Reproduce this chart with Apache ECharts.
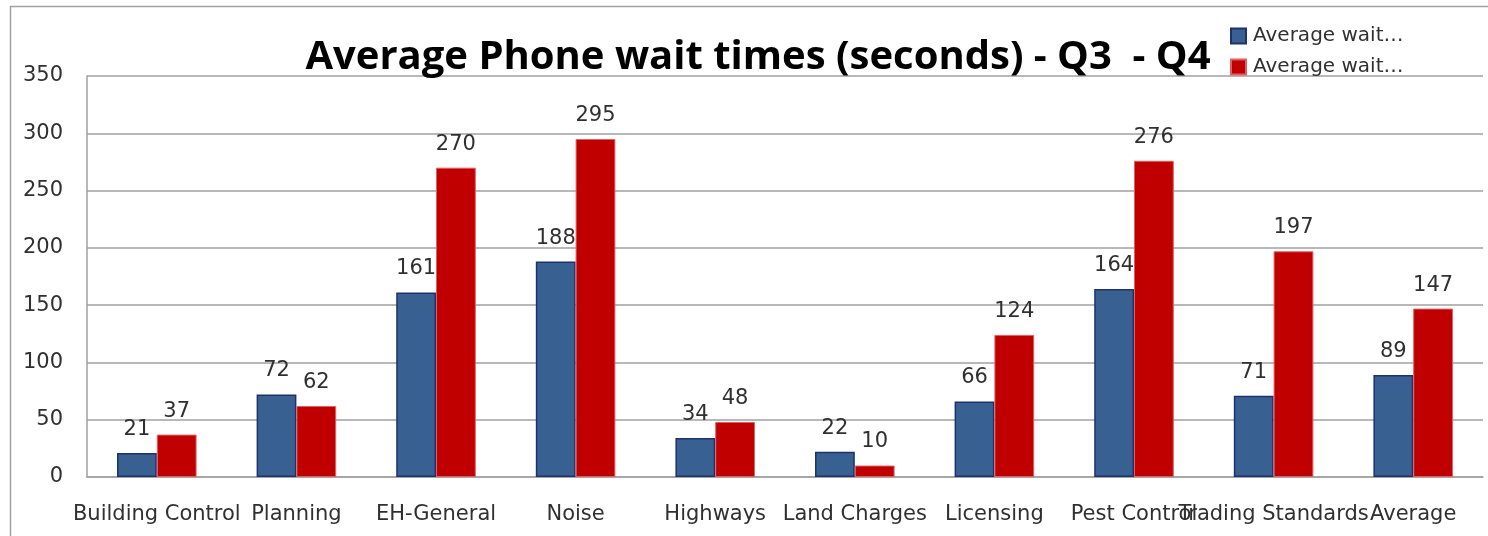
<!DOCTYPE html>
<html>
<head>
<meta charset="utf-8">
<script src="https://cdn.jsdelivr.net/npm/echarts@6/dist/echarts.min.js"></script>
<style>
html,body{margin:0;padding:0;background:#fff;}
#chart{width:1488px;height:536px;}
</style>
</head>
<body>
<div id="chart"></div>
<script>
const categories = ['Building Control','Planning','EH-General','Noise','Highways','Land Charges','Licensing','Pest Control','Trading Standards','Average'];
const seriesNames = ['Average wait…','Average wait… '];
const q3Values = [21,72,161,188,34,22,66,164,71,89];
const q4Values = [37,62,270,295,48,10,124,276,197,147];
const yTicks = {min:0, max:350, interval:50};
const titleText = 'Average Phone wait times (seconds) - Q3  - Q4';

const chart = echarts.init(document.getElementById('chart'), null, {renderer:'canvas'});
const font = 'DejaVu Sans, sans-serif';
const titleFont = 'Open Sans, Noto Sans, sans-serif';
chart.setOption({
  animation:false,
  backgroundColor:'#ffffff',
  graphic:[{
    type:'rect', silent:true, z:-1,
    shape:{x:10.5,y:6.5,width:1600,height:700},
    style:{fill:'none',stroke:'#a0a0a0',lineWidth:1.5}
  }],
  title:{
    text:titleText, left:753, textAlign:'center', top:33,
    textStyle:{fontFamily:titleFont,fontWeight:'bold',fontSize:40,color:'#000'}
  },
  legend:{
    orient:'vertical', left:1230, top:26, itemGap:11, padding:0,
    itemWidth:15, itemHeight:15, icon:'rect',
    data:[{name:seriesNames[0]},{name:seriesNames[1]}],
    textStyle:{fontFamily:font,fontSize:20,lineHeight:15,color:'#303030',padding:[0,0,0,2]}
  },
  grid:{left:87,right:5,top:76,bottom:59,containLabel:false},
  xAxis:{
    type:'category', data:categories,
    axisLine:{lineStyle:{color:'#a0a0a0',width:1.5}},
    axisTick:{show:false},
    axisLabel:{interval:0,fontFamily:font,fontSize:21,color:'#303030',margin:27}
  },
  yAxis:{
    type:'value', min:yTicks.min, max:yTicks.max, interval:yTicks.interval,
    axisLine:{show:true,lineStyle:{color:'#a0a0a0',width:1.5}},
    axisTick:{show:false},
    splitLine:{lineStyle:{color:'#a0a0a0',width:1.5}},
    axisLabel:{fontFamily:font,fontSize:21,color:'#303030',margin:24,padding:[6,0,0,0]}
  },
  series:[
    {name:seriesNames[0],type:'bar',data:q3Values,barGap:'0%',barCategoryGap:'43%',
     itemStyle:{color:'#386192',borderColor:'#1c3270',borderWidth:1.5},
     label:{show:true,position:'top',distance:13,fontFamily:font,fontSize:21,color:'#303030'}},
    {name:seriesNames[1],type:'bar',data:q4Values,barGap:'0%',barCategoryGap:'43%',
     itemStyle:{color:'#c00000',borderColor:'#e06060',borderWidth:1},
     label:{show:true,position:'top',distance:13,fontFamily:font,fontSize:21,color:'#303030'}}
  ]
});
</script>
</body>
</html>
